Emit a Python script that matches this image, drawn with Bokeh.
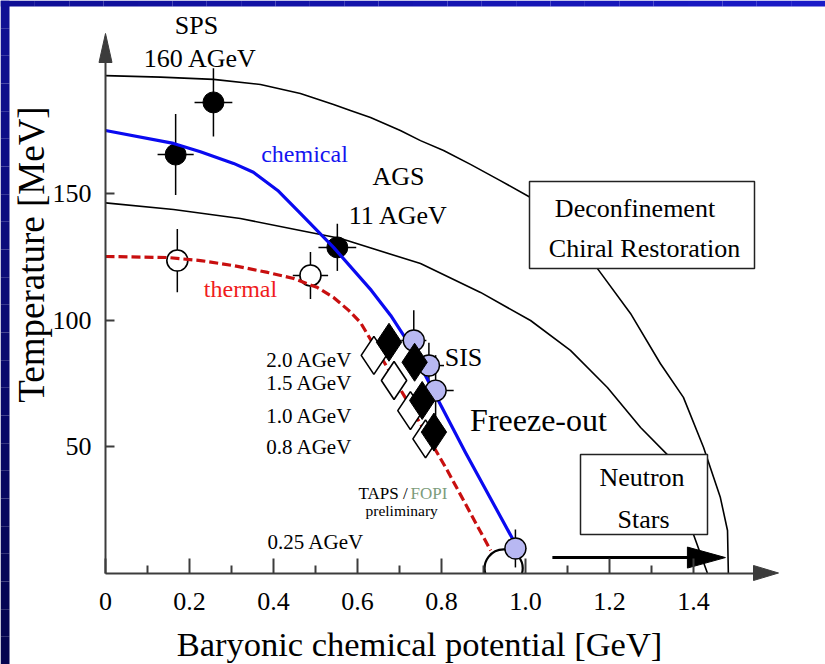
from math import pi
import numpy as np
from bokeh.plotting import figure
from bokeh.models import Range1d, FixedTicker, Label, LinearAxis
from bokeh.core.properties import value
from bokeh.embed import file_html
from bokeh.resources import INLINE

SERIF = "Liberation Serif"

# ---------------- data ----------------
# mu_B [GeV] , T [MeV]
deconf_mu = [0.0, 0.131, 0.257, 0.369, 0.464, 0.543, 0.583, 0.631, 0.702, 0.750, 0.805, 0.869, 0.940,
             1.012, 1.171, 1.250, 1.321, 1.376, 1.424, 1.464, 1.481, 1.483]
deconf_T = [196.6, 196.0, 195.1, 193.1, 189.5, 185.2, 182.8, 180.0, 174.9, 170.9, 167.0, 161.5, 155.1,
            148.4, 120.4, 102.6, 82.8, 69.4, 49.6, 29.8, 16.8, 0.0]

nstar_mu = [0.0, 0.162, 0.321, 0.464, 0.560, 0.750, 0.893, 1.012, 1.107, 1.195, 1.274, 1.340, 1.400, 1.433]
nstar_T = [146.3, 143.7, 140.1, 135.4, 132.2, 122.3, 110.9, 99.8, 88.0, 73.3, 57.5, 46.4, 15.2, 0.0]

chem_mu = [0.0, 0.162, 0.226, 0.305, 0.352, 0.410, 0.464, 0.543, 0.633, 0.679, 0.721, 0.790, 0.857, 0.969]
chem_T = [174.9, 169.8, 166.5, 161.9, 158.4, 151.2, 142.1, 128.7, 111.7, 101.8, 91.1, 69.0, 47.6, 13.6]

therm_mu = [0.0, 0.148, 0.226, 0.305, 0.386, 0.448, 0.505, 0.543, 0.579, 0.607, 0.712, 0.814, 0.917]
therm_T = [125.1, 124.7, 123.5, 121.5, 118.8, 116.4, 112.8, 108.9, 103.8, 99.0, 69.8, 40.5, 8.9]

# chemical freeze-out points (SPS, AGS) - filled circles
chem_pt_mu = [0.257, 0.167, 0.552]
chem_pt_T = [186.0, 165.4, 128.7]
chem_pt_dmu = [0.045, 0.043, 0.045]
chem_pt_dT = [13.5, 16.0, 9.3]

# thermal freeze-out points - open circles
therm_pt_mu = [0.171, 0.488]
therm_pt_T = [123.5, 117.6]
therm_pt_dmu = [0.026, 0.042]
therm_pt_dT = [12.5, 9.3]

# SIS points - light blue circles
sis_mu = [0.734, 0.770, 0.786, 0.976]
sis_T = [91.9, 82.0, 72.1, 9.7]
sis_dmu = [0.030, 0.036, 0.043, 0.026]
sis_dT = [12.0, 9.0, 14.0, 7.5]

# TAPS / FOPI diamonds
fdia_mu = [0.675, 0.736, 0.754, 0.782]
fdia_T = [91.2, 83.3, 68.2, 55.7]
odia_mu = [0.639, 0.687, 0.726, 0.762]
odia_T = [86.0, 76.1, 64.2, 53.0]

# 0.25 AGeV point (half hidden at the axis)
low_mu = [0.948]
low_T = [1.8]

# neutron star arrow
nsarrow_mu = [1.064, 1.476]
nsarrow_T = 6.1

# ticks
x_ticks = [0, 0.2, 0.4, 0.6, 0.8, 1.0, 1.2, 1.4]
x_tick_labels = ["0", "0.2", "0.4", "0.6", "0.8", "1.0", "1.2", "1.4"]
x_minor_ticks = [0.1, 0.3, 0.5, 0.7, 0.9, 1.1, 1.3]
y_ticks = [50, 100, 150]
y_tick_labels = ["50", "100", "150"]

# ---------------- geometry ----------------
W, H = 825, 664
PX_GEV = 420.0
PX_MEV = 2.53
X0_PX = 105.0
Y0_PX = 572.5
x_start = -X0_PX / PX_GEV
x_end = (W - X0_PX) / PX_GEV
y_end = Y0_PX / PX_MEV
y_start = -(H - Y0_PX) / PX_MEV


def gx(px):
    return px / PX_GEV


def gy(px):
    return px / PX_MEV


def mx(px):  # pixel column -> mu
    return (px - X0_PX) / PX_GEV


def ty(py):  # pixel row -> T
    return (Y0_PX - py) / PX_MEV


p = figure(width=W, height=H, x_range=Range1d(x_start, x_end), y_range=Range1d(y_start, y_end),
           output_backend="svg", toolbar_location=None, x_axis_type=None, y_axis_type=None,
           min_border=0)
p.title.visible = False
p.min_border_left = p.min_border_right = p.min_border_top = p.min_border_bottom = 0
p.outline_line_color = None
p.background_fill_color = "white"
p.border_fill_color = "white"

AX = "#3c3c3c"
x_ax_end = mx(753)
y_ax_end = ty(62)

xaxis = LinearAxis(fixed_location=0, bounds=(0, x_ax_end),
                   ticker=FixedTicker(ticks=x_ticks, minor_ticks=x_minor_ticks),
                   major_label_overrides={float(t): l for t, l in zip(x_ticks, x_tick_labels)})
yaxis = LinearAxis(fixed_location=0, bounds=(0, y_ax_end),
                   ticker=FixedTicker(ticks=y_ticks, minor_ticks=[]),
                   major_label_overrides={float(t): l for t, l in zip(y_ticks, y_tick_labels)})
for ax in (xaxis, yaxis):
    ax.axis_line_color = AX
    ax.axis_line_width = 2
    ax.major_tick_line_color = AX
    ax.major_tick_line_width = 2
    ax.minor_tick_line_color = AX
    ax.minor_tick_line_width = 2
    ax.major_tick_out = 0
    ax.minor_tick_out = 0
    ax.major_label_text_font = SERIF
    ax.major_label_text_font_size = "26px"
    ax.major_label_text_color = "black"
xaxis.major_tick_in = 15
xaxis.minor_tick_in = 8
xaxis.major_label_standoff = 20
yaxis.major_tick_in = 9
yaxis.minor_tick_in = 0
yaxis.major_label_standoff = 14
p.add_layout(xaxis, "below")
p.add_layout(yaxis, "left")

# axis arrow heads
p.patch([-gx(6.5), 0, gx(6.5)], [y_ax_end, ty(33), y_ax_end], color=AX)
p.patch([x_ax_end, mx(778), x_ax_end], [-gy(7.5), 0, gy(7.5)], color=AX)

# blue slide frame (gradient)
n = 24
edges = np.linspace(y_start, y_end, n + 1)
cols = []
for i in range(n):
    f = i / (n - 1)  # 0 bottom -> 1 top
    r = int(5 + (16 - 5) * f)
    b = int(80 + (148 - 80) * f)
    cols.append("#%02x%02x%02x" % (r, r, b))
p.quad(left=x_start, right=x_start + gx(9), bottom=edges[:-1], top=edges[1:], color=cols, line_color=None)
xedges = np.linspace(x_start, x_end, n + 1)
tcols = []
for i in range(n):
    f = i / (n - 1)
    r = int(15 + (27 - 15) * f)
    b = int(150 + (200 - 150) * f)
    tcols.append("#%02x%02x%02x" % (r, r, b))
p.quad(left=xedges[:-1], right=xedges[1:], bottom=y_end - gy(6), top=y_end, color=tcols, line_color=None)

# phase boundaries
p.line(deconf_mu, deconf_T, line_color="black", line_width=1.6, line_join="round")
p.line(nstar_mu, nstar_T, line_color="black", line_width=1.6, line_join="round")


# error bars
def errbars(mu, T, dmu, dT):
    mu = np.array(mu); T = np.array(T); dmu = np.array(dmu); dT = np.array(dT)
    p.segment(mu - dmu, T, mu + dmu, T, line_color="black", line_width=1.5)
    p.segment(mu, T - dT, mu, T + dT, line_color="black", line_width=1.5)


errbars(chem_pt_mu, chem_pt_T, chem_pt_dmu, chem_pt_dT)
errbars(therm_pt_mu, therm_pt_T, therm_pt_dmu, therm_pt_dT)
errbars(sis_mu, sis_T, sis_dmu, sis_dT)

p.scatter(chem_pt_mu, chem_pt_T, marker="circle", size=21, fill_color="black", line_color="black")
p.scatter(therm_pt_mu, therm_pt_T, marker="circle", size=21, fill_color="white", line_color="black",
          line_width=1.6)

p.arc(x=low_mu, y=low_T, radius=19, radius_units="screen", start_angle=-0.27, end_angle=pi + 0.27,
      line_color="black", line_width=2.2)

p.line(therm_mu, therm_T, line_color="#c80f0f", line_width=3.2, line_dash="9 4", line_join="round")
p.line(chem_mu, chem_T, line_color="#0a0af0", line_width=3.2, line_join="round")

p.scatter(sis_mu, sis_T, marker="circle", size=21, fill_color="#b8b8f2", line_color="black",
          line_width=1.4)
p.scatter(odia_mu, odia_T, marker="diamond", size=38, fill_color="white", line_color="black",
          line_width=1.6)
p.scatter(fdia_mu, fdia_T, marker="diamond", size=38, fill_color="black", line_color="black")

# neutron star arrow
p.segment(nsarrow_mu[0], nsarrow_T, nsarrow_mu[1] - gx(36), nsarrow_T, line_color="black", line_width=3)
p.patch([nsarrow_mu[1] - gx(38), nsarrow_mu[1], nsarrow_mu[1] - gx(38)],
        [nsarrow_T - gy(10.5), nsarrow_T, nsarrow_T + gy(10.5)], color="black")

# boxes
p.quad(left=[mx(529), mx(580)], right=[mx(754), mx(707)], bottom=[ty(268), ty(534)],
       top=[ty(181), ty(454)], fill_color="white", line_color="#222222", line_width=1.5)


# texts (x in pixels of the reference layout, y = visual middle row)
def txt(px, py, s, size, align="center", color="black"):
    p.text(x=[mx(px)], y=[ty(py)], text=[s], text_font=value(SERIF), text_font_size=value(size),
           text_align=align, text_baseline="middle", text_color=color)


txt(196, 25, "SPS", "26px")
txt(200, 57.5, "160 AGeV", "26px")
txt(304, 153, "chemical", "24px", color="#1414f0")
txt(240, 288, "thermal", "24px", color="#f01c1c")
txt(398, 176, "AGS", "26px")
txt(398, 215, "11 AGeV", "26px")
txt(634.5, 208, "Deconfinement", "26px")
txt(644, 247.5, "Chiral Restoration", "26px")
txt(463, 357, "SIS", "26px")
txt(538, 419, "Freeze-out", "32px")
txt(641.5, 477, "Neutron", "26px")
txt(643, 518.5, "Stars", "26px")
for yy, s in zip([359.5, 382.5, 415, 446], ["2.0 AGeV", "1.5 AGeV", "1.0 AGeV", "0.8 AGeV"]):
    txt(352, yy, s, "21px", align="right")
txt(267, 541.5, "0.25 AGeV", "21px", align="left")
txt(358, 493, "TAPS /", "17px", align="left")
txt(410, 493, "FOPI", "17px", align="left", color="#7c9c7c")
txt(365, 510, "preliminary", "15.5px", align="left")

p.add_layout(Label(x=mx(31), y=ty(254), text="Temperature [MeV]", angle=pi / 2,
                   text_align="center", text_baseline="middle", text_font=SERIF,
                   text_font_size="37px", text_color="black"))
p.add_layout(Label(x=mx(419), y=ty(643), text="Baryonic chemical potential [GeV]",
                   text_align="center", text_baseline="middle", text_font=SERIF,
                   text_font_size="34.5px", text_color="black"))

open("out.html", "w").write(file_html(p, INLINE))
